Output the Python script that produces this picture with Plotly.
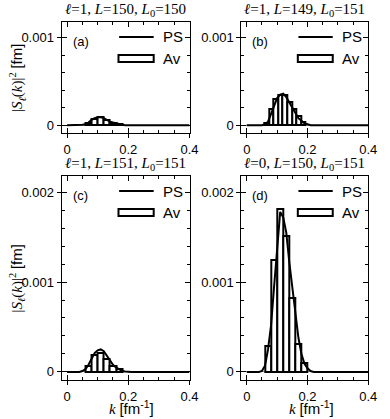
import plotly.graph_objects as go

# PS curves
k_ps = [0, 0.04, 0.05, 0.06, 0.07, 0.08, 0.09, 0.10, 0.11, 0.12, 0.13,
        0.14, 0.15, 0.16, 0.17, 0.18, 0.19, 0.20, 0.21, 0.22, 0.4]
ps_a = [0, 0, 0.000005, 0.00001, 0.00003, 0.00006, 0.00008, 0.00009, 0.00009, 0.00008, 0.00006,
        0.00004, 0.00003, 0.00002, 0.00001, 0.000005, 0, 0, 0, 0, 0]
ps_b = [0, 0, 0, 0.00001, 0.00004, 0.00013, 0.00023, 0.00031, 0.00035, 0.00036, 0.00032,
        0.00026, 0.00019, 0.00013, 0.00008, 0.00005, 0.00002, 0.00001, 0, 0, 0]
ps_c = [0, 0, 0.00001, 0.00003, 0.00008, 0.00015, 0.00021, 0.00024, 0.00025, 0.00023, 0.00018,
        0.00013, 0.00008, 0.00005, 0.00003, 0.00001, 0.000005, 0, 0, 0, 0]
ps_d = [0, 0, 0.00001, 0.00007, 0.00025, 0.00052, 0.00095, 0.0014, 0.00178, 0.00172, 0.00155,
        0.00122, 0.00092, 0.00062, 0.00038, 0.0002, 0.00009, 0.00004, 0.00001, 0, 0]

# Av histograms
k_av_a = [0.07, 0.09, 0.11, 0.13, 0.15, 0.17]
av_a = [0.00003, 0.00007, 0.00009, 0.00006, 0.00003, 0.00001]
k_av_b = [0.066, 0.081, 0.096, 0.111, 0.126, 0.141, 0.156, 0.171, 0.186]
av_b = [0.00003, 0.00019, 0.0003, 0.00035, 0.00034, 0.00026, 0.00018, 0.0001, 0.00004]
k_av_c = [0.07, 0.09, 0.11, 0.13, 0.15, 0.17]
av_c = [0.00007, 0.00019, 0.00021, 0.00014, 0.00007, 0.00003]
k_av_d = [0.07, 0.09, 0.11, 0.13, 0.15, 0.17, 0.19]
av_d = [0.00029, 0.00125, 0.00181, 0.00151, 0.00082, 0.00031, 0.0001]

titles = ["<i>ℓ</i>=1, <i>L</i>=150, <i>L</i><sub>0</sub>=150",
          "<i>ℓ</i>=1, <i>L</i>=149, <i>L</i><sub>0</sub>=151",
          "<i>ℓ</i>=1, <i>L</i>=151, <i>L</i><sub>0</sub>=151",
          "<i>ℓ</i>=0, <i>L</i>=150, <i>L</i><sub>0</sub>=151"]
tags = ["(a)", "(b)", "(c)", "(d)"]

W, H = 390, 419
cols = [(63, 194), (247, 377)]
rows = [(22, 133), (176, 380)]
SANS = "Liberation Sans, Arial, sans-serif"
SERIF = "Liberation Serif, Times New Roman, serif"

panels = [
    (k_av_a, av_a, ps_a, 0.02, 0, 0),
    (k_av_b, av_b, ps_b, 0.015, 1, 0),
    (k_av_c, av_c, ps_c, 0.02, 0, 1),
    (k_av_d, av_d, ps_d, 0.02, 1, 1),
]

fig = go.Figure()
layout = dict(width=W, height=H, margin=dict(l=0, r=0, t=0, b=0),
              plot_bgcolor="white", paper_bgcolor="white",
              showlegend=False, font=dict(family=SANS, size=13, color="black"),
              bargap=0)
annotations = []
shapes = []

for i, (kb, vb, vps, bw, c, r) in enumerate(panels):
    n = i + 1
    m = i + 5
    xs = "" if n == 1 else str(n)
    x0p, x1p = cols[c]
    y0p, y1p = rows[r]
    xdom = [x0p / W, x1p / W]
    ydom = [1 - y1p / H, 1 - y0p / H]
    yr = [-0.00009, 0.00118] if r == 0 else [-0.00009, 0.00218]
    xr = [-0.018, 0.4]
    ph = y1p - y0p

    fig.add_trace(go.Bar(x=kb, y=vb, width=bw, xaxis="x" + xs, yaxis="y" + xs,
                         marker=dict(color="white", line=dict(color="black", width=2))))
    fig.add_trace(go.Scatter(x=k_ps, y=vps, mode="lines", xaxis="x" + xs, yaxis="y" + xs,
                             line=dict(color="black", width=2)))
    # invisible trace to carry the mirrored tick axes
    fig.add_trace(go.Scatter(x=[0.2], y=[0], mode="markers", marker=dict(opacity=0),
                             xaxis="x%d" % m, yaxis="y%d" % m, hoverinfo="skip"))

    layout["xaxis" + xs] = dict(domain=xdom, range=xr, anchor="y" + xs,
                                showline=True, linecolor="black", linewidth=1, mirror=True,
                                ticks="outside", ticklen=4, tickcolor="black",
                                tickvals=[0, 0.2, 0.4], ticktext=["0", "0.2", "0.4"],
                                showgrid=False, zeroline=False,
                                tickfont=dict(size=13))
    layout["yaxis" + xs] = dict(domain=ydom, range=yr, anchor="x" + xs,
                                showline=True, linecolor="black", linewidth=1, mirror=True,
                                ticks="outside", ticklen=4, tickcolor="black",
                                tickvals=[0, 0.001, 0.002] if r else [0, 0.001],
                                ticktext=["0", "0.001", "0.002"] if r else ["0", "0.001"],
                                showgrid=False, zeroline=True, zerolinecolor="#999999",
                                zerolinewidth=1, tickfont=dict(size=13))
    layout["xaxis%d" % m] = dict(overlaying="x" + xs, anchor="y%d" % m, side="top",
                                 range=xr, showticklabels=False, showgrid=False,
                                 zeroline=False, ticks="inside", ticklen=5, mirror="ticks",
                                 tickcolor="black", tick0=0, dtick=0.2,
                                 minor=dict(ticks="inside", ticklen=3, tick0=0, dtick=0.05,
                                            tickcolor="black"))
    layout["yaxis%d" % m] = dict(overlaying="y" + xs, anchor="x%d" % m, side="right",
                                 range=yr, showticklabels=False, showgrid=False,
                                 zeroline=False, ticks="inside", ticklen=5, mirror="ticks",
                                 tickcolor="black", tick0=0, dtick=0.001,
                                 minor=dict(ticks="inside", ticklen=3, tick0=0, dtick=0.0002,
                                            tickcolor="black"))

    xd = "x%s domain" % xs
    yd = "y%s domain" % xs
    # panel title
    annotations.append(dict(text=titles[i], xref=xd, yref=yd, x=0.5, y=1.0, yshift=1,
                            xanchor="center", yanchor="bottom", showarrow=False,
                            font=dict(family=SERIF, size=15)))
    # panel tag
    annotations.append(dict(text=tags[i], xref=xd, yref=yd, x=0.07, y=1 - 19 / ph,
                            xanchor="left", yanchor="middle", showarrow=False,
                            font=dict(family=SANS, size=13)))
    # legend
    ly = 1 - 15 / ph
    shapes.append(dict(type="line", xref=xd, yref=yd, x0=0.45, x1=0.72, y0=ly, y1=ly,
                       line=dict(color="black", width=2)))
    annotations.append(dict(text="PS", xref=xd, yref=yd, x=0.78, y=ly, xanchor="left",
                            yanchor="middle", showarrow=False, font=dict(family=SANS, size=15)))
    shapes.append(dict(type="rect", xref=xd, yref=yd, x0=0.445, x1=0.72,
                       y0=1 - 40 / ph, y1=1 - 33 / ph, fillcolor="white",
                       line=dict(color="black", width=2)))
    annotations.append(dict(text="Av", xref=xd, yref=yd, x=0.78, y=1 - 36.5 / ph,
                            xanchor="left", yanchor="middle", showarrow=False,
                            font=dict(family=SANS, size=15)))

    if c == 0:
        annotations.append(dict(text="|<i>S</i><sub><i>ℓ</i></sub>(<i>k</i>)|<sup>2</sup>"
                                     " <span style='font-family:Liberation Sans'>[fm]</span>",
                                xref="paper", yref=yd, x=17 / W, y=0.5, textangle=-90,
                                xanchor="center", yanchor="middle", showarrow=False,
                                font=dict(family=SERIF, size=15)))
    if r == 1:
        annotations.append(dict(text="<i>k</i> <span style='font-family:Liberation Sans'>"
                                     "[fm<sup>-1</sup>]</span>",
                                xref=xd, yref="paper", x=0.55, y=1 - 407 / H,
                                xanchor="center", yanchor="middle", showarrow=False,
                                font=dict(family=SERIF, size=15)))

layout["annotations"] = annotations
layout["shapes"] = shapes
fig.update_layout(**layout)
# drop the default page margin so the 390x419 figure fills the window exactly
fig.write_html("out.html", config={"displayModeBar": False},
               post_script="document.body.style.margin='0';")
